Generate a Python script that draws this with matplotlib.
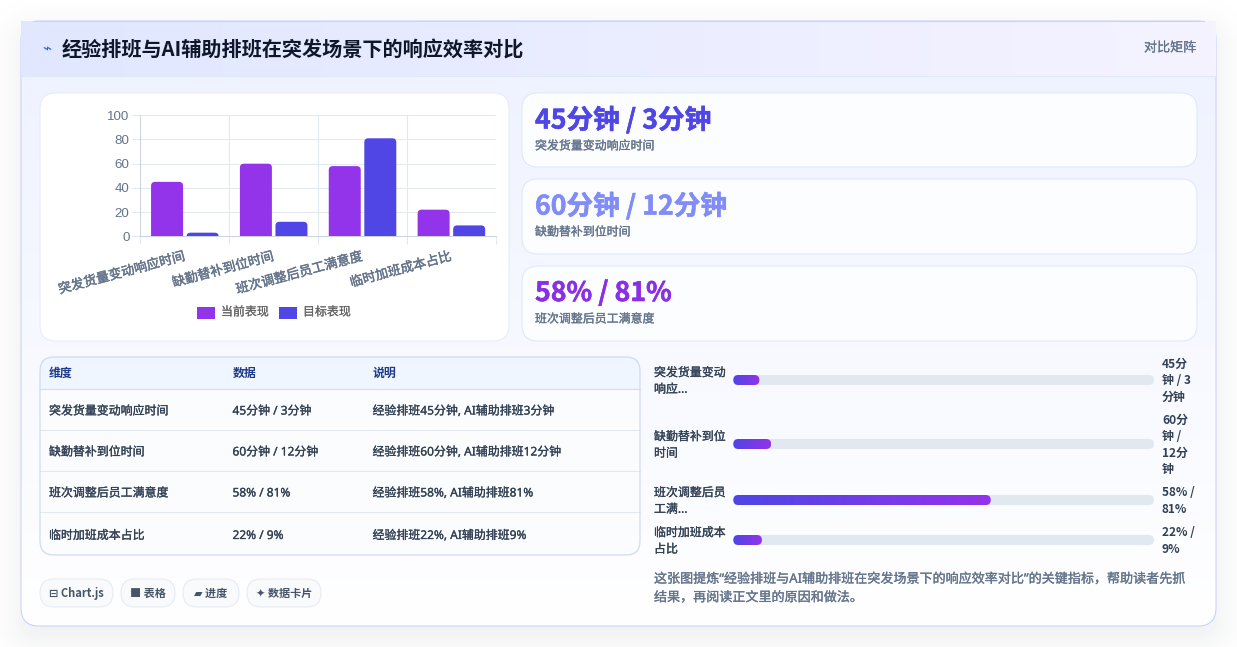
import matplotlib
matplotlib.use("Agg")
import matplotlib.pyplot as plt
import matplotlib.patheffects as pe
import numpy as np
from matplotlib.patches import FancyBboxPatch, PathPatch, Rectangle
from matplotlib.path import Path
from matplotlib.colors import to_rgb

plt.rcParams['font.family'] = ['Noto Sans', 'Noto Sans CJK SC', 'DejaVu Sans']
# Noto Sans has no bold face here, so bold text goes straight to the CJK family
BOLD = ['Noto Sans CJK SC', 'DejaVu Sans']

W, H = 1237, 647

# chart data
categories = ["突发货量变动响应时间", "缺勤替补到位时间", "班次调整后员工满意度", "临时加班成本占比"]
current_values = [45, 60, 58, 22]
target_values = [3, 12, 81, 9]
series_names = ["当前表现", "目标表现"]
y_ticks = [0, 20, 40, 60, 80, 100]

# stat cards
stat_values = ["45分钟 / 3分钟", "60分钟 / 12分钟", "58% / 81%"]
stat_labels = ["突发货量变动响应时间", "缺勤替补到位时间", "班次调整后员工满意度"]
stat_colors = ["#4f46e5", "#818cf8", "#8b2fe6"]

# table
table_header = ["维度", "数据", "说明"]
table_col1 = categories
table_col2 = ["45分钟 / 3分钟", "60分钟 / 12分钟", "58% / 81%", "22% / 9%"]
table_col3 = ["经验排班45分钟, AI辅助排班3分钟", "经验排班60分钟, AI辅助排班12分钟",
              "经验排班58%, AI辅助排班81%", "经验排班22%, AI辅助排班9%"]

# progress rows
progress_labels = ["突发货量变动\n响应...", "缺勤替补到位\n时间", "班次调整后员\n工满...", "临时加班成本\n占比"]
progress_fill = [6.2, 9.0, 61.2, 6.8]
progress_text = ["45分\n钟 / 3\n分钟", "60分\n钟 /\n12分\n钟", "58% /\n81%", "22% /\n9%"]

pills = ["⊟ Chart.js", "■ 表格", "▰ 进度", "✦ 数据卡片"]
caption = "这张图提炼“经验排班与AI辅助排班在突发场景下的响应效率对比”的关键指标，帮助读者先抓\n结果，再阅读正文里的原因和做法。"


def rbox(ax, x0, y0, x1, y1, r, **kw):
    p = FancyBboxPatch((x0, y0), x1 - x0, y1 - y0, boxstyle=f"round,pad=0,rounding_size={r}", **kw)
    ax.add_patch(p)
    return p


def gradient(ax, extent, c0, c1, horizontal=True, clip=None, zorder=1):
    c0, c1 = np.array(to_rgb(c0)), np.array(to_rgb(c1))
    t = np.linspace(0, 1, 256)[:, None]
    img = (1 - t) * c0 + t * c1
    img = img[None, :, :] if horizontal else img[:, None, :]
    im = ax.imshow(img, extent=extent, aspect='auto', zorder=zorder, interpolation='bilinear')
    if clip is not None:
        im.set_clip_path(clip)
    return im


def top_round_bar(ax, x0, x1, h, rx, ry, color):
    # bar with rounded top corners, in data coordinates
    ry = min(ry, h)
    verts = [(x0, 0), (x0, h - ry), (x0, h), (x0 + rx, h), (x1 - rx, h), (x1, h), (x1, h - ry), (x1, 0), (x0, 0)]
    codes = [Path.MOVETO, Path.LINETO, Path.CURVE3, Path.CURVE3, Path.LINETO, Path.CURVE3, Path.CURVE3, Path.LINETO, Path.CLOSEPOLY]
    ax.add_patch(PathPatch(Path(verts, codes), fc=color, ec='none', zorder=3))


def heavy(color, w=0.2):
    # thin outline in the text colour for a semibold look
    return [pe.withStroke(linewidth=w, foreground=color)]


fig = plt.figure(figsize=(W / 100, H / 100), dpi=100, facecolor='white')
ax = fig.add_axes([0, 0, 1, 1])
ax.set_axis_off()

# soft drop shadow under the card
yy, xx = np.mgrid[0:H, 0:W] + 0.5
cx, cy = (21 + 1216) / 2, (21 + 626) / 2 + 12
hw, hh = (1216 - 21) / 2, (626 - 21) / 2
qx = np.abs(xx - cx) - hw + 18
qy = np.abs(yy - cy) - hh + 18
dist = np.hypot(np.maximum(qx, 0), np.maximum(qy, 0)) + np.minimum(np.maximum(qx, qy), 0) - 18
alpha = 0.09 / (1 + np.exp(dist / 12))
shadow = np.zeros((H, W, 4))
shadow[..., :3] = to_rgb("#1e293b")
shadow[..., 3] = alpha
ax.imshow(shadow, extent=(0, W, H, 0), aspect='auto', zorder=0)

# card body and header
card = rbox(ax, 21, 21, 1216, 626, 18, fc='none', ec='none', zorder=1)
gradient(ax, (21, 1216, 626, 21), "#eef2ff", "#ffffff", horizontal=False, clip=card, zorder=1)
rbox(ax, 21, 21, 1216, 626, 18, fc='none', ec="#c7d2fe", lw=0.75, zorder=2)
header_clip = Rectangle((21, 21), 1195, 55, transform=ax.transData)
gradient(ax, (21, 1216, 76, 21), "#e0e7ff", "#f5f3ff", clip=header_clip, zorder=2.05)
ax.plot([33, 1204], [21, 21], color="#c7d2fe", lw=0.75, zorder=2.1)
ax.plot([21, 1216], [76, 76], color="#dfe7fb", lw=0.7, zorder=2.1)

ax.text(47, 50, "⌁", color="#2563eb", fontsize=11, ha='center', va='center', zorder=4)
ax.text(62, 50.5, "经验排班与AI辅助排班在突发场景下的响应效率对比", color="#0f172a", fontsize=14.5, fontweight='bold',
        family=BOLD, va='center', zorder=4)
ax.text(1196, 48, "对比矩阵", color="#64748b", fontsize=9.4, ha='right', va='center', zorder=4, path_effects=heavy("#64748b", 0.15))

# chart panel
rbox(ax, 40, 93, 509, 341, 16, fc='white', ec="#e6ecf5", lw=0.75, zorder=2)

# stat cards
stat_tops = [93, 179, 266]
stat_bottoms = [167, 254, 341]
for top, bot, val, lab, col in zip(stat_tops, stat_bottoms, stat_values, stat_labels, stat_colors):
    rbox(ax, 522, top, 1197, bot, 16, fc="#fcfdff", ec="#dfe8f7", lw=0.75, zorder=2)
    ax.text(535, top + 27.5, val, color=col, fontsize=19.2, fontweight='bold', family=BOLD, va='center', zorder=4,
            path_effects=heavy(col, 0.4))
    ax.text(535, top + 53, lab, color="#64748b", fontsize=8.6, va='center', zorder=4, path_effects=heavy("#64748b"))

# table
tbl = rbox(ax, 40, 357, 640, 555, 14, fc='#fbfcfe', ec='none', zorder=2)
hdr = ax.add_patch(Rectangle((40, 357), 600, 32, fc="#eff6ff", ec='none', zorder=2.1))
hdr.set_clip_path(tbl)
for y in [430, 471, 512]:
    ax.plot([40, 640], [y, y], color="#e2e8f0", lw=0.7, zorder=2.2)
ax.plot([40, 640], [389, 389], color="#cfdcf2", lw=0.8, zorder=2.2)
rbox(ax, 40, 357, 640, 555, 14, fc='none', ec="#cbd7ee", lw=0.8, zorder=2.3)
col_x = [49, 232.5, 372.5]
for x, t in zip(col_x, table_header):
    ax.text(x, 373.5, t, color="#1e3a8a", fontsize=8.6, fontweight='bold', family=BOLD, va='center', zorder=4)
row_y = [411, 452, 493, 535.5]
for y, a, b, c in zip(row_y, table_col1, table_col2, table_col3):
    for x, t in zip(col_x, (a, b, c)):
        ax.text(x, y, t, color="#334155", fontsize=8.6, va='center', zorder=4, path_effects=heavy("#334155"))

# pills
pill_x0 = [40, 121, 183, 247]
pill_x1 = [113, 175, 239, 321]
for x0, x1, t in zip(pill_x0, pill_x1, pills):
    rbox(ax, x0, 579, x1, 607, 14, fc="#f8fafc", ec="#e6ebf3", lw=0.75, zorder=2)
    ax.text((x0 + x1) / 2, 593.5, t, color="#475569", fontsize=8, fontweight='bold', family=BOLD, ha='center', va='center', zorder=4)

# progress rows
prog_y = [380, 444, 500, 540]
prog_ax = fig.add_axes([733.3 / W, 0, (1154 - 733.3) / W, 1], zorder=3)
prog_ax.set_axis_off()
prog_ax.patch.set_alpha(0)
prog_ax.set_xlim(0, 100)
prog_ax.set_ylim(H, 0)
rx = 5 * 100 / (1154 - 733.3)
for y, f, lab, txt in zip(prog_y, progress_fill, progress_labels, progress_text):
    prog_ax.add_patch(FancyBboxPatch((0, y - 5), 100, 10, boxstyle=f"round,pad=0,rounding_size={rx}",
                                     mutation_aspect=5 / rx, fc="#e2e8f0", ec='none', zorder=1))
    fill = FancyBboxPatch((0, y - 5), f, 10, boxstyle=f"round,pad=0,rounding_size={rx}",
                          mutation_aspect=5 / rx, fc='none', ec='none', zorder=2)
    prog_ax.add_patch(fill)
    gradient(prog_ax, (0, f, y + 5, y - 5), "#4f46e5", "#9333ea", clip=fill, zorder=2)
    ax.text(654, y + 1, lab, color="#334155", fontsize=8.6, va='center', ha='left', linespacing=1.35, zorder=4, path_effects=heavy("#334155"))
    ax.text(1162, y + 1, txt, color="#334155", fontsize=8.6, fontweight='bold', family=BOLD, va='center', ha='left', linespacing=1.32, zorder=4)
prog_ax.set_xlim(0, 100)
prog_ax.set_ylim(H, 0)

ax.text(654, 588.5, caption, color="#64748b", fontsize=9.4, va='center', ha='left', linespacing=1.55, zorder=4, path_effects=heavy("#64748b"))

ax.set_xlim(0, W)
ax.set_ylim(H, 0)

# bar chart
bar_ax = fig.add_axes([140.4 / W, 1 - 236.3 / H, (495.8 - 140.4) / W, (236.3 - 115.3) / H], zorder=3)
bar_ax.patch.set_alpha(0)
bar_ax.set_xlim(0, 4)
bar_ax.set_ylim(0, 100)
bar_ax.set_yticks(y_ticks)
bar_ax.set_xticks(range(5))
bar_ax.set_xticklabels([])
bar_ax.tick_params(axis='y', length=5.8, width=0.75, color="#e2e8f0", labelcolor="#64748b", labelsize=9.6, pad=2,
                   labelfontfamily='Liberation Sans')
bar_ax.tick_params(axis='x', length=5.8, width=0.75, color="#e2e8f0")
bar_ax.grid(True, color="#e2e8f0", lw=0.75, zorder=0)
bar_ax.set_axisbelow(True)
for name in ['top', 'right']:
    bar_ax.spines[name].set_visible(False)
for name in ['left', 'bottom']:
    bar_ax.spines[name].set_color("#cbd5e1")
    bar_ax.spines[name].set_linewidth(0.75)

colors = ["#9333ea", "#4f46e5"]
for i, (a, b) in enumerate(zip(current_values, target_values)):
    top_round_bar(bar_ax, i + 0.12, i + 0.48, a, 0.045, 3.3, colors[0])
    top_round_bar(bar_ax, i + 0.52, i + 0.88, b, 0.045, 3.3, colors[1])
    bar_ax.annotate(categories[i], xy=(i + 0.5, 0), xycoords='data', xytext=(-1.6, -10), textcoords='offset points',
                    rotation=15, rotation_mode='anchor', ha='right', va='top', color="#64748b", fontsize=9.4,
                    path_effects=heavy("#64748b", 0.3))

# legend
for x, c, name, tx in zip([197, 279], colors, series_names, [221, 303]):
    ax.add_patch(Rectangle((x, 307), 18, 12, fc=c, ec='none', zorder=4))
    ax.text(tx, 312, name, color="#666666", fontsize=8.6, va='center', zorder=4, path_effects=heavy("#666666", 0.15))

fig.savefig("out.png", dpi=100)
